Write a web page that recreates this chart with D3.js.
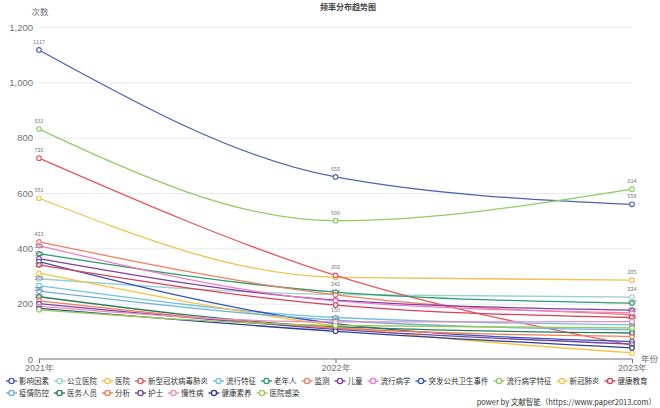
<!DOCTYPE html>
<html><head><meta charset="utf-8">
<script src="https://cdn.jsdelivr.net/npm/d3@7/dist/d3.min.js"></script>
<style>body{margin:0;background:#fff}svg{display:block;font-family:"Noto Sans CJK SC","Noto Sans",sans-serif}</style>
</head><body><svg id="c" width="660" height="408"></svg>
<script>
const years = ["2021年","2022年","2023年"];
const yTicks = [0,200,400,600,800,1000,1200];
const names = ["影响因素","公立医院","医院","新型冠状病毒肺炎","流行特征","老年人","监测","儿童","流行病学","突发公共卫生事件","流行病学特征","新冠肺炎","健康教育","疫情防控","医务人员","分析","护士","慢性病","健康素养","医院感染"];
const colors = ["#4a62b5","#9ccfcf","#f2c14e","#e8585a","#72c2e0","#2e9e6e","#f08062","#7d3fa5","#f07bc6","#3a54b8","#8fcc62","#f6c445","#d8405a","#6cb0dd","#2a7d5c","#f07d54","#7445a2","#f08cbc","#2c3e9a","#9acb58"];
const v影响因素 = [1117,658,559];
const v公立医院 = [290,233,224];
const v医院 = [581,295,285];
const v新型冠状病毒肺炎 = [726,302,50];
const v流行特征 = [265,150,123];
const v老年人 = [381,242,202];
const v监测 = [423,232,160];
const v儿童 = [363,213,177];
const v流行病学 = [410,210,167];
const v突发公共卫生事件 = [352,128,63];
const v流行病学特征 = [831,500,614];
const v新冠肺炎 = [310,120,22];
const v健康教育 = [340,195,150];
const v疫情防控 = [245,140,105];
const v医务人员 = [225,117,94];
const v分析 = [210,112,81];
const v护士 = [200,107,54];
const v慢性病 = [190,134,135];
const v健康素养 = [183,100,40];
const v医院感染 = [178,121,112];
const values = [v影响因素,v公立医院,v医院,v新型冠状病毒肺炎,v流行特征,v老年人,v监测,v儿童,v流行病学,v突发公共卫生事件,v流行病学特征,v新冠肺炎,v健康教育,v疫情防控,v医务人员,v分析,v护士,v慢性病,v健康素养,v医院感染];

const svg = d3.select("#c");
const x = d3.scalePoint().domain(years).range([39,632]);
const y = d3.scaleLinear().domain([0,1200]).range([359,27]);

svg.append("text").attr("x",348).attr("y",10).attr("text-anchor","middle").attr("font-size",8).attr("font-weight","bold").attr("fill","#464646").text("频率分布趋势图");
svg.append("text").attr("x",40).attr("y",15).attr("text-anchor","middle").attr("font-size",8.5).attr("fill","#6e7079").text("次数");
const gy = svg.append("g").attr("transform","translate(39,0)")
  .call(d3.axisLeft(y).tickValues(yTicks).tickSize(-593).tickFormat(d3.format(",")).tickPadding(6));
gy.select(".domain").remove();
gy.selectAll(".tick line").attr("stroke","#e0e6f1").attr("stroke-width",0.8);
gy.selectAll(".tick text").attr("fill","#6e7079").attr("font-size",9.5);
gy.selectAll(".tick").filter(d=>d===0).select("line").remove();
const gx = svg.append("g").attr("transform","translate(0,359)")
  .call(d3.axisBottom(x).tickSize(4).tickPadding(2));
gx.select(".domain").attr("stroke","#6e7079").attr("d","M39,0H632");
gx.selectAll(".tick line").attr("stroke","#6e7079");
gx.selectAll(".tick text").attr("fill","#6e7079").attr("font-size",9);
svg.append("text").attr("x",641).attr("y",362).attr("font-size",8.5).attr("fill","#6e7079").text("年份");

const line = d3.line().x((d,i)=>x(years[i])).y(d=>y(d)).curve(d3.curveMonotoneX);
const g = svg.append("g");
values.forEach((vals,k)=>{
  g.append("path").attr("d",line(vals)).attr("fill","none").attr("stroke",colors[k]).attr("stroke-width",1.3);
});
values.forEach((vals,k)=>{
  vals.forEach((v,i)=>{
    g.append("circle").attr("cx",x(years[i])).attr("cy",y(v)).attr("r",2.3).attr("fill","#fff").attr("stroke",colors[k]).attr("stroke-width",1.1);
  });
});
years.forEach((yr,i)=>{
  const placed = [];
  const order = values.map(v=>v[i]).sort((a,b)=>b-a);
  order.forEach(val=>{
    const ly = y(val) - 6;
    if(placed.some(p=>Math.abs(p-ly)<6.8)) return;
    placed.push(ly);
    svg.append("text").attr("x",x(yr)).attr("y",ly).attr("text-anchor","middle").attr("font-size",5.5).attr("fill","#777").text(val);
  });
});

const fs = 7.5;
let lx = 6, row = 0;
const rowY = [381,393];
names.forEach((n,k)=>{
  const w = 13 + n.length*fs;
  if(k===13){ row=1; lx=6; }
  const gg = svg.append("g").attr("transform",`translate(${lx},${rowY[row]})`);
  gg.append("line").attr("x1",0).attr("x2",11).attr("y1",0).attr("y2",0).attr("stroke",colors[k]).attr("stroke-width",1.4);
  gg.append("circle").attr("cx",5.5).attr("cy",0).attr("r",2.6).attr("fill","#fff").attr("stroke",colors[k]).attr("stroke-width",1.4);
  gg.append("text").attr("x",13).attr("y",2.7).attr("font-size",fs).attr("fill","#333").text(n);
  lx += w + 5;
});
svg.append("text").attr("x",656).attr("y",405).attr("text-anchor","end").attr("font-size",7.5).attr("fill","#333").text("power by 文献智能（https://www.paper2013.com）");
</script></body></html>
